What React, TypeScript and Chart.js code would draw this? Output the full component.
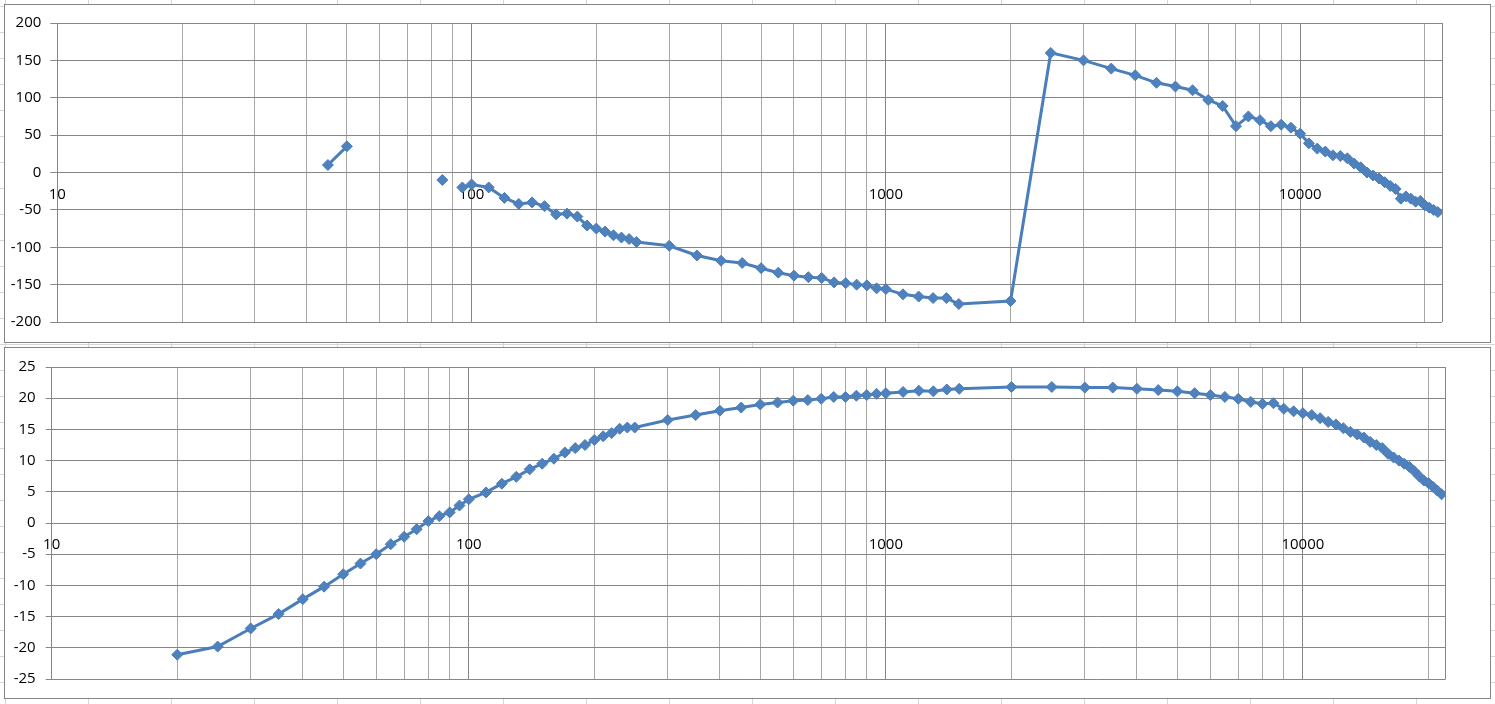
import React, { useEffect, useRef } from 'react';
import { Chart, registerables } from 'chart.js';

Chart.register(...registerables);

// Frequencies (Hz) shared by both plots
const frequencies = [
  20, 25, 30, 35, 40, 45, 50, 55, 60, 65, 70, 75, 80, 85, 90, 95, 100,
  110, 120, 130, 140, 150, 160, 170, 180, 190, 200, 210, 220, 230, 240, 250,
  300, 350, 400, 450, 500, 550, 600, 650, 700, 750, 800, 850, 900, 950, 1000,
  1100, 1200, 1300, 1400, 1500,
  2000, 2500, 3000, 3500, 4000, 4500, 5000, 5500, 6000, 6500, 7000, 7500, 8000, 8500, 9000, 9500, 10000,
  10500, 11000, 11500, 12000, 12500, 13000, 13500, 14000, 14500, 15000, 15500, 16000, 16500, 17000,
  17500, 18000, 18500, 19000, 19500, 20000, 20500, 21000, 21500,
];

// Phase (degrees) – top plot, null = missing point
const phaseValues: (number | null)[] = [
  null, null, null, null, null, 10, 35, null, null, null, null, null, null, -10, null, -20, -16,
  -20, -34, -42, -40, -45, -56, -55, -59, -71, -75, -79, -84, -87, -89, -93,
  -98, -111, -118, -121, -128, -134, -138, -140, -141, -147, -148, -150, -151, -155, -156,
  -163, -166, -168, -168, -176,
  -172, 160, 150, 139, 130, 120, 115, 110, 97, 89, 62, 75, 70, 62, 64, 60, 52,
  39, 32, 28, 23, 22, 19, 12, 7, 0, -4, -8, -13, -18, -22,
  -35, -32, -35, -39, -38, -44, -47, -50, -53,
];

// Magnitude (dB) – bottom plot
const magnitudeValues: number[] = [
  -21.1, -19.8, -16.9, -14.6, -12.2, -10.2, -8.2, -6.5, -5.0, -3.4, -2.2, -1.0, 0.3, 1.1, 1.7, 2.8, 3.8,
  4.9, 6.3, 7.4, 8.6, 9.5, 10.3, 11.3, 12.0, 12.5, 13.3, 13.9, 14.4, 15.1, 15.3, 15.3,
  16.5, 17.3, 18.0, 18.5, 19.0, 19.3, 19.6, 19.7, 19.9, 20.2, 20.2, 20.4, 20.5, 20.7, 20.8,
  21.0, 21.2, 21.1, 21.4, 21.5,
  21.8, 21.8, 21.7, 21.7, 21.5, 21.3, 21.1, 20.8, 20.5, 20.2, 19.9, 19.4, 19.1, 19.2, 18.3, 17.9, 17.6,
  17.3, 16.8, 16.2, 15.8, 15.2, 14.6, 14.2, 13.7, 13.0, 12.5, 12.0, 11.1, 10.5, 10.0,
  9.5, 9.0, 8.3, 7.5, 6.8, 6.4, 5.8, 5.2, 4.6,
];

// Axis settings
const xMin = 10;
const xMax = 22000;
const xLabelTicks = [10, 100, 1000, 10000];
const xMinorMultipliers = [1, 2, 3, 4, 5, 6, 7, 8, 9];

const phaseAxis = { min: -200, max: 200, step: 50 };
const magnitudeAxis = { min: -25, max: 25, step: 5 };

const xGridValues: number[] = (() => {
  const out: number[] = [];
  xLabelTicks.forEach((d) => {
    xMinorMultipliers.forEach((m) => {
      const v = d * m;
      if (v <= xMax) out.push(v);
    });
  });
  out.push(xMax);
  return out;
})();

const LINE_COLOR = '#4a7ebb';
const MARKER_FILL = '#4f81bd';
const GRID_MAJOR = '#868686';
const GRID_MINOR = '#a8a8a8';
const FONT = { family: "'Open Sans', 'Liberation Sans', sans-serif", size: 15 };

type Layout = {
  yWidth: number;
  top: number;
  bottom: number;
  right: number;
  tickLength: number;
  yPad: number;
};

function PlotBox(props: {
  values: (number | null)[];
  axis: { min: number; max: number; step: number };
  layout: Layout;
  left: number;
  top: number;
  width: number;
  height: number;
}) {
  const ref = useRef<HTMLCanvasElement | null>(null);
  const { values, axis, layout, left, top, width, height } = props;

  useEffect(() => {
    if (!ref.current) return;
    const chart = new Chart(ref.current, {
      type: 'line',
      data: {
        datasets: [
          {
            data: frequencies.map((f, i) => ({ x: f, y: values[i] as any })),
            borderColor: LINE_COLOR,
            backgroundColor: MARKER_FILL,
            borderWidth: 3,
            pointStyle: 'rectRot',
            pointRadius: 5.5,
            pointBorderWidth: 1,
            pointBorderColor: LINE_COLOR,
            pointBackgroundColor: MARKER_FILL,
            spanGaps: false,
            tension: 0,
            fill: false,
          },
        ],
      },
      options: {
        animation: false,
        responsive: false,
        events: [],
        layout: {
          padding: { left: 0, top: layout.top, bottom: layout.bottom, right: layout.right },
        },
        plugins: {
          legend: { display: false },
          tooltip: { enabled: false },
          title: { display: false },
        },
        scales: {
          x: {
            type: 'logarithmic',
            min: xMin,
            max: xMax,
            position: { y: 0 } as any,
            afterBuildTicks: (scale: any) => {
              scale.ticks = xGridValues.map((v) => ({ value: v }));
            },
            ticks: {
              autoSkip: false,
              maxRotation: 0,
              minRotation: 0,
              padding: 13,
              color: '#000',
              font: FONT,
              callback: (v: any) => (xLabelTicks.includes(Number(v)) ? String(v) : ''),
            },
            grid: {
              color: (ctx: any) => {
                const v = ctx.tick ? ctx.tick.value : 0;
                return xLabelTicks.includes(v) || v === xMax ? GRID_MAJOR : GRID_MINOR;
              },
              lineWidth: 1,
              drawTicks: false,
              tickLength: 0,
            },
            border: { display: false },
          },
          y: {
            type: 'linear',
            min: axis.min,
            max: axis.max,
            afterFit: (scale: any) => {
              scale.width = layout.yWidth;
            },
            ticks: {
              stepSize: axis.step,
              padding: layout.yPad,
              color: '#000',
              font: FONT,
            },
            grid: {
              color: GRID_MAJOR,
              lineWidth: 1,
              drawTicks: true,
              tickLength: layout.tickLength,
            },
            border: { display: true, color: GRID_MAJOR },
          },
        },
      },
    });
    return () => chart.destroy();
  }, []);

  return (
    <div
      style={{
        position: 'absolute',
        left,
        top,
        width,
        height,
        boxSizing: 'border-box',
        border: '1px solid #868686',
        background: '#fff',
      }}
    >
      <canvas ref={ref} width={width - 2} height={height - 2} style={{ display: 'block' }} />
    </div>
  );
}

export default function App() {
  return (
    <div
      style={{
        position: 'absolute',
        left: 0,
        top: 0,
        width: 1495,
        height: 704,
        overflow: 'hidden',
        backgroundColor: '#fff',
        backgroundImage:
          'linear-gradient(to right, #d6d6d6 1px, transparent 1px), linear-gradient(to bottom, #d6d6d6 1px, transparent 1px)',
        backgroundSize: '83px 26px',
        backgroundPosition: '5px 6px',
      }}
    >
      <PlotBox
        values={phaseValues}
        axis={phaseAxis}
        left={4}
        top={4}
        width={1487}
        height={339}
        layout={{ yWidth: 52.3, top: 14.3, bottom: 20, right: 48, tickLength: 7, yPad: 9 }}
      />
      <PlotBox
        values={magnitudeValues}
        axis={magnitudeAxis}
        left={4}
        top={347}
        width={1487}
        height={352}
        layout={{ yWidth: 46.7, top: 17.3, bottom: 18, right: 44.3, tickLength: 6, yPad: 10 }}
      />
    </div>
  );
}
